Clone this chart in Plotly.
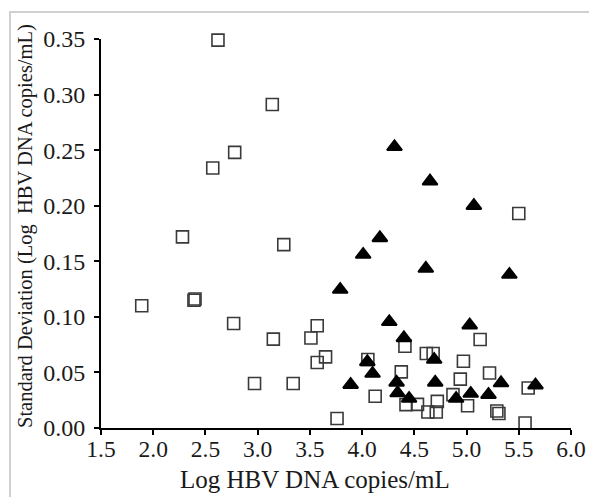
import plotly.graph_objects as go

# Open squares series
sq_x = [1.89, 2.28, 2.39, 2.40, 2.57, 2.62, 2.77, 2.78, 2.97, 3.14, 3.15, 3.25, 3.34,
        3.51, 3.57, 3.57, 3.65, 3.76, 4.055, 4.125, 4.375, 4.41, 4.42, 4.53, 4.615,
        4.63, 4.68, 4.71, 4.72, 4.87, 4.94, 4.97, 5.01, 5.13, 5.22, 5.29, 5.31, 5.50,
        5.56, 5.59]
sq_y = [0.110, 0.172, 0.115, 0.116, 0.234, 0.349, 0.094, 0.248, 0.040, 0.291, 0.080,
        0.165, 0.040, 0.081, 0.092, 0.059, 0.064, 0.0085, 0.0616, 0.0285, 0.0505,
        0.0736, 0.021, 0.0213, 0.067, 0.0144, 0.067, 0.0144, 0.024, 0.030, 0.044,
        0.060, 0.020, 0.0796, 0.0495, 0.0153, 0.013, 0.193, 0.0045, 0.036]

# Filled triangles series
tr_x = [3.79, 3.89, 4.01, 4.05, 4.10, 4.17, 4.26, 4.31, 4.33, 4.34, 4.40, 4.45, 4.61,
        4.65, 4.69, 4.70, 4.90, 5.03, 5.04, 5.07, 5.21, 5.33, 5.41, 5.66]
tr_y = [0.1246, 0.039, 0.156, 0.0594, 0.049, 0.171, 0.0955, 0.253, 0.041, 0.0315,
        0.081, 0.0265, 0.1435, 0.222, 0.0616, 0.041, 0.0265, 0.0925, 0.031, 0.200,
        0.030, 0.0405, 0.138, 0.0385]

x_title = "Log HBV DNA copies/mL"
y_title = "Standard Deviation (Log  HBV DNA copies/mL)"

FONT = "Liberation Serif, Times New Roman, serif"
TXT = "#1a1a1a"

fig = go.Figure()
fig.add_trace(go.Scatter(
    x=sq_x, y=sq_y, mode="markers", cliponaxis=False,
    marker=dict(symbol="square-open", size=12, color="#3a3a3a",
                line=dict(width=1.6, color="#3a3a3a")),
    showlegend=False))
fig.add_trace(go.Scatter(
    x=tr_x, y=tr_y, mode="markers", cliponaxis=False,
    marker=dict(symbol="triangle-up", size=13, color="black",
                line=dict(width=2, color="black")),
    showlegend=False))

# page body has an 8px margin; work in page pixels
OFF = 8
PL, PR, PT, PB = 101, 571, 39, 428   # plot area in page pixels
W, H = 589, 489
L, T = PL - OFF, PT - OFF
R = (W + OFF) - PR
B = (H + OFF) - PB
pw, ph = PR - PL, PB - PT

def px2paper_x(px):
    return (px - PL) / pw

def px2paper_y(py):
    return (PB - py) / ph

fig.update_layout(
    width=W, height=H,
    margin=dict(l=L, r=R, t=T, b=B, pad=0),
    paper_bgcolor="white", plot_bgcolor="white",
    font=dict(family=FONT, color=TXT),
    xaxis=dict(range=[1.5, 6.0], dtick=0.5, tick0=1.5, tickformat=".1f",
               showgrid=False, zeroline=False, showline=True, linecolor="black",
               linewidth=2, ticks="outside", ticklen=5, tickwidth=2,
               tickcolor="black", tickfont=dict(family=FONT, size=23.5, color=TXT),
               ticklabelstandoff=-6),
    yaxis=dict(range=[0, 0.35], dtick=0.05, tick0=0, tickformat=".2f",
               showgrid=False, zeroline=False, showline=True, linecolor="black",
               linewidth=2, ticks="outside", ticklen=5, tickwidth=2,
               tickcolor="black", tickfont=dict(family=FONT, size=24, color=TXT),
               ticklabelstandoff=4),
    annotations=[
        dict(text=x_title, xref="paper", yref="paper",
             x=px2paper_x(315), y=px2paper_y(479), xanchor="center", yanchor="middle",
             showarrow=False, font=dict(family=FONT, size=25, color=TXT)),
        dict(text=y_title, xref="paper", yref="paper", textangle=-90,
             x=px2paper_x(25), y=px2paper_y(226), xanchor="center", yanchor="middle",
             showarrow=False, font=dict(family=FONT, size=20.5, color=TXT)),
    ],
    shapes=[dict(type="rect", xref="paper", yref="paper",
                 x0=px2paper_x(10), x1=px2paper_x(593),
                 y0=px2paper_y(520), y1=px2paper_y(12),
                 line=dict(color="#d0d0d0", width=2), layer="below")],
)

fig.write_html("out.html")
